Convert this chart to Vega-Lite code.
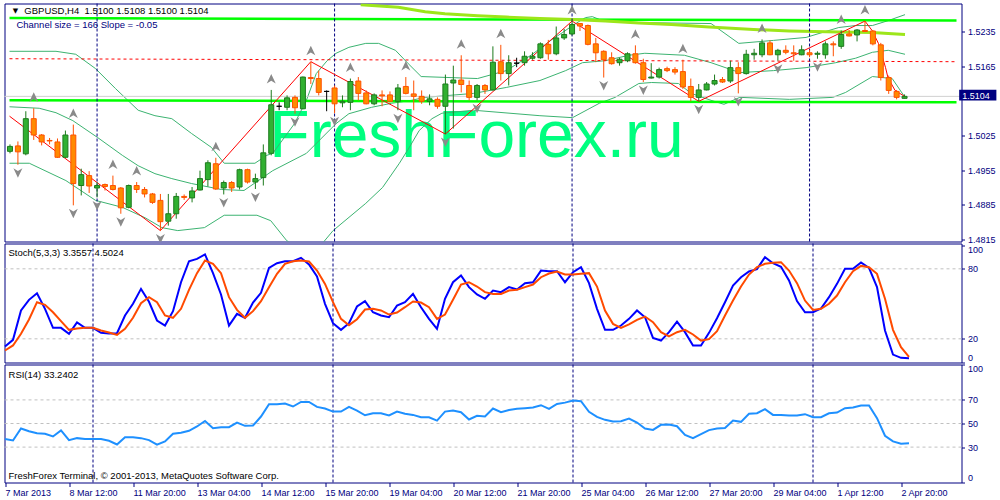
{
"$schema":"https://vega.github.io/schema/vega-lite/v6.json",
"background":"#ffffff",
"padding":{"left":0.5,"top":2.5,"right":0,"bottom":0},
"bounds":"flush",
"spacing":2,
"config":{"view":{"stroke":"#000080","strokeWidth":1}},
"datasets":{
"candles":[
{"i":0,"o":1.4993,"h":1.5007,"l":1.4989,"c":1.5003},{"i":1,"o":1.5004,"h":1.5013,"l":1.4966,"c":1.4992},{"i":2,"o":1.4988,"h":1.5074,"l":1.4985,"c":1.5059},{"i":3,"o":1.5059,"h":1.5080,"l":1.5016,"c":1.5026},{"i":4,"o":1.5026,"h":1.5028,"l":1.5005,"c":1.5012},{"i":5,"o":1.5015,"h":1.5020,"l":1.5007,"c":1.5014},{"i":6,"o":1.5012,"h":1.5019,"l":1.4980,"c":1.4981},{"i":7,"o":1.4981,"h":1.5035,"l":1.4980,"c":1.5026},{"i":8,"o":1.5026,"h":1.5047,"l":1.4884,"c":1.4928},{"i":9,"o":1.4924,"h":1.4958,"l":1.4904,"c":1.4946},
{"i":10,"o":1.4944,"h":1.4953,"l":1.4909,"c":1.4923},{"i":11,"o":1.4919,"h":1.4931,"l":1.4900,"c":1.4924},{"i":12,"o":1.4926,"h":1.4928,"l":1.4914,"c":1.4922},{"i":13,"o":1.4924,"h":1.4944,"l":1.4914,"c":1.4916},{"i":14,"o":1.4919,"h":1.4921,"l":1.4867,"c":1.4879},{"i":15,"o":1.4880,"h":1.4926,"l":1.4878,"c":1.4924},{"i":16,"o":1.4924,"h":1.4931,"l":1.4909,"c":1.4916},{"i":17,"o":1.4916,"h":1.4921,"l":1.4900,"c":1.4907},{"i":18,"o":1.4907,"h":1.4909,"l":1.4887,"c":1.4890},{"i":19,"o":1.4894,"h":1.4907,"l":1.4833,"c":1.4851},
{"i":20,"o":1.4852,"h":1.4907,"l":1.4843,"c":1.4867},{"i":21,"o":1.4867,"h":1.4909,"l":1.4857,"c":1.4902},{"i":22,"o":1.4902,"h":1.4906,"l":1.4895,"c":1.4900},{"i":23,"o":1.4899,"h":1.4921,"l":1.4890,"c":1.4913},{"i":24,"o":1.4915,"h":1.4954,"l":1.4914,"c":1.4938},{"i":25,"o":1.4936,"h":1.4975,"l":1.4922,"c":1.4970},{"i":26,"o":1.4968,"h":1.4980,"l":1.4915,"c":1.4917},{"i":27,"o":1.4919,"h":1.4934,"l":1.4906,"c":1.4930},{"i":28,"o":1.4930,"h":1.4933,"l":1.4911,"c":1.4919},{"i":29,"o":1.4921,"h":1.4958,"l":1.4916,"c":1.4956},
{"i":30,"o":1.4956,"h":1.4958,"l":1.4928,"c":1.4931},{"i":31,"o":1.4931,"h":1.4948,"l":1.4917,"c":1.4938},{"i":32,"o":1.4940,"h":1.5007,"l":1.4924,"c":1.4990},{"i":33,"o":1.4989,"h":1.5117,"l":1.4985,"c":1.5087},{"i":34,"o":1.5084,"h":1.5092,"l":1.5076,"c":1.5084},{"i":35,"o":1.5082,"h":1.5106,"l":1.5076,"c":1.5101},{"i":36,"o":1.5102,"h":1.5106,"l":1.5069,"c":1.5081},{"i":37,"o":1.5079,"h":1.5144,"l":1.5078,"c":1.5143},{"i":38,"o":1.5142,"h":1.5174,"l":1.5129,"c":1.5140},{"i":39,"o":1.5140,"h":1.5156,"l":1.5106,"c":1.5112},
{"i":40,"o":1.5114,"h":1.5116,"l":1.5074,"c":1.5114},{"i":41,"o":1.5121,"h":1.5126,"l":1.5070,"c":1.5089},{"i":42,"o":1.5091,"h":1.5106,"l":1.5082,"c":1.5094},{"i":43,"o":1.5092,"h":1.5140,"l":1.5076,"c":1.5134},{"i":44,"o":1.5135,"h":1.5143,"l":1.5096,"c":1.5110},{"i":45,"o":1.5111,"h":1.5116,"l":1.5088,"c":1.5089},{"i":46,"o":1.5089,"h":1.5110,"l":1.5086,"c":1.5107},{"i":47,"o":1.5107,"h":1.5116,"l":1.5084,"c":1.5105},{"i":48,"o":1.5107,"h":1.5114,"l":1.5092,"c":1.5094},{"i":49,"o":1.5094,"h":1.5129,"l":1.5076,"c":1.5121},
{"i":50,"o":1.5124,"h":1.5143,"l":1.5108,"c":1.5110},{"i":51,"o":1.5109,"h":1.5136,"l":1.5076,"c":1.5104},{"i":52,"o":1.5104,"h":1.5116,"l":1.5089,"c":1.5094},{"i":53,"o":1.5094,"h":1.5108,"l":1.5086,"c":1.5099},{"i":54,"o":1.5098,"h":1.5102,"l":1.5079,"c":1.5084},{"i":55,"o":1.5084,"h":1.5148,"l":1.5028,"c":1.5129},{"i":56,"o":1.5131,"h":1.5166,"l":1.5039,"c":1.5137},{"i":57,"o":1.5137,"h":1.5187,"l":1.5112,"c":1.5128},{"i":58,"o":1.5126,"h":1.5136,"l":1.5096,"c":1.5102},{"i":59,"o":1.5102,"h":1.5129,"l":1.5096,"c":1.5126},
{"i":60,"o":1.5126,"h":1.5129,"l":1.5109,"c":1.5117},{"i":61,"o":1.5117,"h":1.5205,"l":1.5116,"c":1.5173},{"i":62,"o":1.5174,"h":1.5208,"l":1.5136,"c":1.5150},{"i":63,"o":1.5150,"h":1.5187,"l":1.5126,"c":1.5172},{"i":64,"o":1.5171,"h":1.5182,"l":1.5163,"c":1.5171},{"i":65,"o":1.5172,"h":1.5195,"l":1.5166,"c":1.5185},{"i":66,"o":1.5181,"h":1.5193,"l":1.5178,"c":1.5185},{"i":67,"o":1.5182,"h":1.5213,"l":1.5180,"c":1.5210},{"i":68,"o":1.5209,"h":1.5218,"l":1.5178,"c":1.5190},{"i":69,"o":1.5190,"h":1.5245,"l":1.5187,"c":1.5222},
{"i":70,"o":1.5222,"h":1.5240,"l":1.5218,"c":1.5229},{"i":71,"o":1.5230,"h":1.5256,"l":1.5227,"c":1.5249},{"i":72,"o":1.5251,"h":1.5252,"l":1.5236,"c":1.5246},{"i":73,"o":1.5247,"h":1.5249,"l":1.5207,"c":1.5209},{"i":74,"o":1.5210,"h":1.5222,"l":1.5173,"c":1.5192},{"i":75,"o":1.5195,"h":1.5197,"l":1.5142,"c":1.5178},{"i":76,"o":1.5182,"h":1.5193,"l":1.5168,"c":1.5170},{"i":77,"o":1.5172,"h":1.5182,"l":1.5166,"c":1.5179},{"i":78,"o":1.5176,"h":1.5193,"l":1.5173,"c":1.5190},{"i":79,"o":1.5190,"h":1.5207,"l":1.5170,"c":1.5172},
{"i":80,"o":1.5172,"h":1.5180,"l":1.5133,"c":1.5138},{"i":81,"o":1.5141,"h":1.5171,"l":1.5140,"c":1.5143},{"i":82,"o":1.5143,"h":1.5162,"l":1.5140,"c":1.5158},{"i":83,"o":1.5160,"h":1.5164,"l":1.5153,"c":1.5156},{"i":84,"o":1.5158,"h":1.5163,"l":1.5148,"c":1.5153},{"i":85,"o":1.5154,"h":1.5178,"l":1.5119,"c":1.5123},{"i":86,"o":1.5124,"h":1.5140,"l":1.5094,"c":1.5102},{"i":87,"o":1.5102,"h":1.5129,"l":1.5094,"c":1.5117},{"i":88,"o":1.5117,"h":1.5133,"l":1.5116,"c":1.5129},{"i":89,"o":1.5129,"h":1.5148,"l":1.5126,"c":1.5136},
{"i":90,"o":1.5138,"h":1.5143,"l":1.5131,"c":1.5133},{"i":91,"o":1.5135,"h":1.5176,"l":1.5131,"c":1.5162},{"i":92,"o":1.5162,"h":1.5173,"l":1.5110,"c":1.5150},{"i":93,"o":1.5150,"h":1.5198,"l":1.5148,"c":1.5189},{"i":94,"o":1.5188,"h":1.5200,"l":1.5178,"c":1.5191},{"i":95,"o":1.5188,"h":1.5219,"l":1.5183,"c":1.5212},{"i":96,"o":1.5212,"h":1.5217,"l":1.5187,"c":1.5188},{"i":97,"o":1.5188,"h":1.5200,"l":1.5176,"c":1.5197},{"i":98,"o":1.5197,"h":1.5207,"l":1.5189,"c":1.5193},{"i":99,"o":1.5192,"h":1.5207,"l":1.5176,"c":1.5190},
{"i":100,"o":1.5188,"h":1.5207,"l":1.5187,"c":1.5198},{"i":101,"o":1.5192,"h":1.5198,"l":1.5183,"c":1.5188},{"i":102,"o":1.5189,"h":1.5195,"l":1.5180,"c":1.5191},{"i":103,"o":1.5188,"h":1.5215,"l":1.5180,"c":1.5210},{"i":104,"o":1.5210,"h":1.5215,"l":1.5185,"c":1.5208},{"i":105,"o":1.5205,"h":1.5237,"l":1.5200,"c":1.5229},{"i":106,"o":1.5230,"h":1.5238,"l":1.5225,"c":1.5226},{"i":107,"o":1.5228,"h":1.5240,"l":1.5215,"c":1.5238},{"i":108,"o":1.5237,"h":1.5256,"l":1.5234,"c":1.5235},{"i":109,"o":1.5236,"h":1.5238,"l":1.5207,"c":1.5210},
{"i":110,"o":1.5208,"h":1.5212,"l":1.5136,"c":1.5142},{"i":111,"o":1.5142,"h":1.5146,"l":1.5109,"c":1.5116},{"i":112,"o":1.5114,"h":1.5117,"l":1.5098,"c":1.5102},{"i":113,"o":1.5100,"h":1.5108,"l":1.5100,"c":1.5104}
],
"osc":[
{"i":0,"k":13.4,"d":10.0,"r":36.8},{"i":1,"k":19.1,"d":14.3,"r":35.6},{"i":2,"k":44.3,"d":24.3,"r":45.8},{"i":3,"k":53.4,"d":36.6,"r":43.5},{"i":4,"k":59.1,"d":51.4,"r":41.8},{"i":5,"k":45.7,"d":49.1,"r":41.3},{"i":6,"k":29.4,"d":42.8,"r":39.0},{"i":7,"k":29.4,"d":35.1,"r":44.1},{"i":8,"k":24.3,"d":27.7,"r":35.9},{"i":9,"k":34.0,"d":28.8,"r":37.6},
{"i":10,"k":29.4,"d":29.4,"r":36.8},{"i":11,"k":29.4,"d":29.4,"r":36.8},{"i":12,"k":25.1,"d":27.1,"r":36.8},{"i":13,"k":24.5,"d":25.4,"r":35.4},{"i":14,"k":24.8,"d":23.4,"r":32.2},{"i":15,"k":40.0,"d":28.5,"r":38.4},{"i":16,"k":50.0,"d":38.0,"r":38.4},{"i":17,"k":62.8,"d":50.5,"r":37.6},{"i":18,"k":51.7,"d":55.7,"r":35.9},{"i":19,"k":35.7,"d":51.4,"r":32.0},
{"i":20,"k":31.4,"d":40.0,"r":34.8},{"i":21,"k":43.7,"d":38.0,"r":41.3},{"i":22,"k":68.5,"d":45.7,"r":42.1},{"i":23,"k":86.5,"d":62.0,"r":43.8},{"i":24,"k":88.5,"d":76.3,"r":47.5},{"i":25,"k":92.3,"d":87.1,"r":52.2},{"i":26,"k":76.3,"d":84.3,"r":46.0},{"i":27,"k":58.0,"d":76.3,"r":46.9},{"i":28,"k":31.4,"d":55.7,"r":46.9},{"i":29,"k":41.4,"d":44.8,"r":50.8},
{"i":30,"k":38.0,"d":38.0,"r":48.0},{"i":31,"k":51.1,"d":43.7,"r":48.3},{"i":32,"k":59.4,"d":52.3,"r":55.9},{"i":33,"k":80.8,"d":64.3,"r":66.3},{"i":34,"k":84.8,"d":75.7,"r":66.3},{"i":35,"k":86.5,"d":84.3,"r":66.9},{"i":36,"k":86.5,"d":86.5,"r":64.4},{"i":37,"k":89.4,"d":87.1,"r":68.3},{"i":38,"k":83.7,"d":86.3,"r":68.3},{"i":39,"k":73.4,"d":78.5,"r":64.1},
{"i":40,"k":50.0,"d":67.1,"r":62.7},{"i":41,"k":33.4,"d":51.4,"r":60.1},{"i":42,"k":27.7,"d":37.1,"r":60.1},{"i":43,"k":33.4,"d":31.7,"r":64.1},{"i":44,"k":47.7,"d":36.8,"r":61.0},{"i":45,"k":52.3,"d":45.1,"r":57.0},{"i":46,"k":42.8,"d":45.7,"r":58.7},{"i":47,"k":40.0,"d":44.3,"r":58.7},{"i":48,"k":38.5,"d":40.8,"r":56.8},{"i":49,"k":48.5,"d":42.5,"r":60.1},
{"i":50,"k":51.4,"d":47.1,"r":58.2},{"i":51,"k":58.5,"d":52.0,"r":57.3},{"i":52,"k":47.1,"d":51.1,"r":55.3},{"i":53,"k":37.1,"d":47.1,"r":55.3},{"i":54,"k":28.6,"d":37.1,"r":52.5},{"i":55,"k":54.3,"d":40.8,"r":60.1},{"i":56,"k":68.5,"d":53.4,"r":61.0},{"i":57,"k":74.3,"d":66.5,"r":59.6},{"i":58,"k":64.3,"d":68.5,"r":53.4},{"i":59,"k":58.0,"d":64.8,"r":56.5},
{"i":60,"k":54.3,"d":60.0,"r":55.9},{"i":61,"k":61.4,"d":58.5,"r":62.7},{"i":62,"k":60.0,"d":58.5,"r":59.6},{"i":63,"k":64.3,"d":61.4,"r":61.5},{"i":64,"k":62.3,"d":62.0,"r":62.4},{"i":65,"k":67.7,"d":64.3,"r":63.0},{"i":66,"k":68.5,"d":66.5,"r":63.5},{"i":67,"k":78.5,"d":72.8,"r":65.5},{"i":68,"k":78.0,"d":76.0,"r":62.4},{"i":69,"k":78.0,"d":77.7,"r":66.6},
{"i":70,"k":68.5,"d":75.1,"r":67.7},{"i":71,"k":77.1,"d":75.1,"r":69.4},{"i":72,"k":81.4,"d":75.7,"r":68.9},{"i":73,"k":67.7,"d":76.3,"r":59.9},{"i":74,"k":45.7,"d":64.8,"r":55.6},{"i":75,"k":27.7,"d":44.3,"r":53.1},{"i":76,"k":27.7,"d":32.8,"r":51.7},{"i":77,"k":31.4,"d":29.4,"r":52.0},{"i":78,"k":37.1,"d":32.3,"r":54.2},{"i":79,"k":44.3,"d":36.3,"r":50.8},
{"i":80,"k":38.5,"d":39.1,"r":45.8},{"i":81,"k":20.8,"d":34.3,"r":44.6},{"i":82,"k":18.5,"d":25.7,"r":48.9},{"i":83,"k":25.7,"d":22.0,"r":49.1},{"i":84,"k":34.8,"d":25.7,"r":47.7},{"i":85,"k":25.7,"d":27.7,"r":40.4},{"i":86,"k":14.3,"d":23.7,"r":37.6},{"i":87,"k":14.3,"d":18.5,"r":41.0},{"i":88,"k":25.1,"d":19.7,"r":44.4},{"i":89,"k":37.7,"d":26.5,"r":45.8},
{"i":90,"k":51.4,"d":40.0,"r":46.1},{"i":91,"k":65.7,"d":52.8,"r":52.5},{"i":92,"k":72.8,"d":64.8,"r":51.4},{"i":93,"k":77.7,"d":75.1,"r":58.2},{"i":94,"k":79.7,"d":81.4,"r":58.7},{"i":95,"k":90.0,"d":84.3,"r":62.1},{"i":96,"k":84.8,"d":85.1,"r":57.3},{"i":97,"k":81.7,"d":85.7,"r":57.3},{"i":98,"k":70.0,"d":78.5,"r":56.8},{"i":99,"k":52.3,"d":67.7,"r":56.8},
{"i":100,"k":42.8,"d":52.8,"r":57.9},{"i":101,"k":42.8,"d":44.8,"r":55.3},{"i":102,"k":46.0,"d":45.7,"r":55.3},{"i":103,"k":55.7,"d":50.0,"r":58.7},{"i":104,"k":67.1,"d":57.1,"r":59.3},{"i":105,"k":80.0,"d":68.5,"r":63.0},{"i":106,"k":80.0,"d":78.0,"r":63.5},{"i":107,"k":85.4,"d":82.5,"r":65.2},{"i":108,"k":80.8,"d":81.4,"r":65.2},{"i":109,"k":64.3,"d":75.7,"r":54.5},
{"i":110,"k":27.1,"d":54.3,"r":39.6},{"i":111,"k":6.5,"d":27.7,"r":34.8},{"i":112,"k":3.7,"d":12.8,"r":32.8},{"i":113,"k":3.36,"d":4.5,"r":33.24}
],
"bands":[
{"b":"u","i":-0.0625,"p":1.5195},{"b":"u","i":5.81,"p":1.5195},{"b":"u","i":8.31,"p":1.5189},{"b":"u","i":10.81,"p":1.5160},{"b":"u","i":13.31,"p":1.5120},{"b":"u","i":16.19,"p":1.5076},{"b":"u","i":18.31,"p":1.5065},{"b":"u","i":20.44,"p":1.5059},{"b":"u","i":22.94,"p":1.5029},{"b":"u","i":25.44,"p":1.5001},{"b":"u","i":27.06,"p":1.4969},{"b":"u","i":30.94,"p":1.4969},{"b":"u","i":32.44,"p":1.4985},{"b":"u","i":33.19,"p":1.4989},{"b":"u","i":35.94,"p":1.5049},{"b":"u","i":37.44,"p":1.5096},{"b":"u","i":38.69,"p":1.5150},{"b":"u","i":40.06,"p":1.5176},{"b":"u","i":41.19,"p":1.5191},{"b":"u","i":42.81,"p":1.5203},{"b":"u","i":44.94,"p":1.5211},{"b":"u","i":46.56,"p":1.5211},{"b":"u","i":48.69,"p":1.5197},{"b":"u","i":50.31,"p":1.5170},{"b":"u","i":51.94,"p":1.5144},{"b":"u","i":59.06,"p":1.5140},{"b":"u","i":62.69,"p":1.5156},{"b":"u","i":65.81,"p":1.5187},{"b":"u","i":68.31,"p":1.5217},{"b":"u","i":69.81,"p":1.5233},{"b":"u","i":71.06,"p":1.5247},{"b":"u","i":72.69,"p":1.5263},{"b":"u","i":73.56,"p":1.5265},{"b":"u","i":74.81,"p":1.5257},{"b":"u","i":79.56,"p":1.5253},{"b":"u","i":88.56,"p":1.5251},{"b":"u","i":92.06,"p":1.5211},{"b":"u","i":96.44,"p":1.5217},{"b":"u","i":100.56,"p":1.5223},{"b":"u","i":104.69,"p":1.5243},{"b":"u","i":106.81,"p":1.5247},{"b":"u","i":108.94,"p":1.5247},{"b":"u","i":110.94,"p":1.5257},{"b":"u","i":113.06,"p":1.5269},
{"b":"m","i":-0.0625,"p":1.5083},{"b":"m","i":3.69,"p":1.5080},{"b":"m","i":5.81,"p":1.5071},{"b":"m","i":7.94,"p":1.5055},{"b":"m","i":11.06,"p":1.5021},{"b":"m","i":14.19,"p":1.4985},{"b":"m","i":16.19,"p":1.4964},{"b":"m","i":18.31,"p":1.4948},{"b":"m","i":20.44,"p":1.4938},{"b":"m","i":22.94,"p":1.4928},{"b":"m","i":26.69,"p":1.4916},{"b":"m","i":29.56,"p":1.4914},{"b":"m","i":33.19,"p":1.4954},{"b":"m","i":37.44,"p":1.4989},{"b":"m","i":41.19,"p":1.5049},{"b":"m","i":42.81,"p":1.5069},{"b":"m","i":45.69,"p":1.5082},{"b":"m","i":48.19,"p":1.5090},{"b":"m","i":50.69,"p":1.5096},{"b":"m","i":52.44,"p":1.5102},{"b":"m","i":58.56,"p":1.5110},{"b":"m","i":62.69,"p":1.5122},{"b":"m","i":66.94,"p":1.5136},{"b":"m","i":70.19,"p":1.5156},{"b":"m","i":72.31,"p":1.5172},{"b":"m","i":75.19,"p":1.5176},{"b":"m","i":78.19,"p":1.5187},{"b":"m","i":80.19,"p":1.5191},{"b":"m","i":85.19,"p":1.5187},{"b":"m","i":88.56,"p":1.5172},{"b":"m","i":92.19,"p":1.5152},{"b":"m","i":96.44,"p":1.5156},{"b":"m","i":100.56,"p":1.5162},{"b":"m","i":104.31,"p":1.5172},{"b":"m","i":106.81,"p":1.5181},{"b":"m","i":108.94,"p":1.5193},{"b":"m","i":110.94,"p":1.5197},{"b":"m","i":113.06,"p":1.5189},
{"b":"l","i":-0.0625,"p":1.4969},{"b":"l","i":2.44,"p":1.4969},{"b":"l","i":7.06,"p":1.4934},{"b":"l","i":10.81,"p":1.4894},{"b":"l","i":14.19,"p":1.4880},{"b":"l","i":17.06,"p":1.4859},{"b":"l","i":19.19,"p":1.4839},{"b":"l","i":21.19,"p":1.4833},{"b":"l","i":24.56,"p":1.4839},{"b":"l","i":27.06,"p":1.4864},{"b":"l","i":31.19,"p":1.4864},{"b":"l","i":32.94,"p":1.4853},{"b":"l","i":34.94,"p":1.4813},{"b":"l","i":37.06,"p":1.4789},{"b":"l","i":39.56,"p":1.4809},{"b":"l","i":40.81,"p":1.4833},{"b":"l","i":44.94,"p":1.4888},{"b":"l","i":47.06,"p":1.4920},{"b":"l","i":49.19,"p":1.4969},{"b":"l","i":50.44,"p":1.5001},{"b":"l","i":51.69,"p":1.5035},{"b":"l","i":53.31,"p":1.5059},{"b":"l","i":54.56,"p":1.5070},{"b":"l","i":58.56,"p":1.5076},{"b":"l","i":66.94,"p":1.5065},{"b":"l","i":71.06,"p":1.5061},{"b":"l","i":74.44,"p":1.5090},{"b":"l","i":76.44,"p":1.5102},{"b":"l","i":79.44,"p":1.5130},{"b":"l","i":81.06,"p":1.5132},{"b":"l","i":84.44,"p":1.5130},{"b":"l","i":86.06,"p":1.5110},{"b":"l","i":88.56,"p":1.5096},{"b":"l","i":90.19,"p":1.5088},{"b":"l","i":92.19,"p":1.5102},{"b":"l","i":98.44,"p":1.5098},{"b":"l","i":103.94,"p":1.5102},{"b":"l","i":105.56,"p":1.5112},{"b":"l","i":108.94,"p":1.5144},{"b":"l","i":111.44,"p":1.5140},{"b":"l","i":113.06,"p":1.5102}
],
"zz":[{"i":-0.0625,"p":1.5064},{"i":19,"p":1.4833},{"i":38,"p":1.5174},{"i":55,"p":1.5028},{"i":71,"p":1.5256},{"i":87,"p":1.5094},{"i":108,"p":1.5256},{"i":108.9,"p":1.5237},{"i":109.7,"p":1.5211},{"i":110.6,"p":1.5162},{"i":110.9,"p":1.5142},{"i":111.8,"p":1.5116},{"i":113,"p":1.5104}],
"yl":[{"i":44.3,"p":1.5289},{"i":49.06,"p":1.5284},{"i":52.44,"p":1.5275},{"i":54.94,"p":1.5271},{"i":59.06,"p":1.5267},{"i":62.69,"p":1.5264},{"i":66.94,"p":1.5261},{"i":71.06,"p":1.5259},{"i":75.19,"p":1.5256},{"i":79.44,"p":1.5252},{"i":83.56,"p":1.5249},{"i":88.31,"p":1.5244},{"i":93.94,"p":1.5239},{"i":98.44,"p":1.5236},{"i":104.69,"p":1.5234},{"i":108.94,"p":1.5233},{"i":110.94,"p":1.5231},{"i":113.06,"p":1.5229}],
"fup":[{"i":3,"p":1.5080},{"i":8,"p":1.5047},{"i":13,"p":1.4944},{"i":16,"p":1.4931},{"i":26,"p":1.4980},{"i":33,"p":1.5117},{"i":38,"p":1.5174},{"i":43,"p":1.5140},{"i":50,"p":1.5143},{"i":57,"p":1.5187},{"i":62,"p":1.5208},{"i":71,"p":1.5256},{"i":79,"p":1.5207},{"i":85,"p":1.5178},{"i":95,"p":1.5219},{"i":105,"p":1.5237},{"i":108,"p":1.5256}],
"fdn":[{"i":1,"p":1.4966},{"i":8,"p":1.4884},{"i":11,"p":1.4900},{"i":14,"p":1.4867},{"i":19,"p":1.4833},{"i":27,"p":1.4906},{"i":31,"p":1.4917},{"i":36,"p":1.5069},{"i":41,"p":1.5070},{"i":49,"p":1.5076},{"i":55,"p":1.5028},{"i":59,"p":1.5096},{"i":75,"p":1.5142},{"i":80,"p":1.5133},{"i":87,"p":1.5094},{"i":92,"p":1.5110},{"i":97,"p":1.5176},{"i":102,"p":1.5180}],
"seps":[{"s":11},{"s":41},{"s":71},{"s":101}],
"chan":[{"ln":"top","i":-0.0625,"p":1.5262},{"ln":"top","i":119.5625,"p":1.5257},{"ln":"bot","i":-0.0625,"p":1.5096},{"ln":"bot","i":119.5625,"p":1.5092}],
"midln":[{"i":-0.0625,"p":1.5180},{"i":119.5625,"p":1.5174}]
},
"vconcat":[
{
"width":957,"height":238,
"resolve":{"axis":{"x":"independent","y":"independent"}},
"layer":[
{"data":{"values":[{}]},"mark":{"type":"text","text":"FreshForex.ru","font":"Liberation Sans","fontSize":66,"color":"#00ff7f","align":"center","baseline":"alphabetic"},
 "encoding":{"x":{"datum":58.94,"type":"quantitative","scale":{"domain":[-0.0625,119.5625],"nice":false,"zero":false},"axis":null},"y":{"datum":1.4981,"type":"quantitative","scale":{"domain":[1.4811,1.52915],"nice":false,"zero":false},"axis":null}}},
{"data":{"name":"bands"},"mark":{"type":"line","color":"#3cb371","strokeWidth":1,"clip":true},
 "encoding":{"x":{"field":"i","type":"quantitative","scale":{"domain":[-0.0625,119.5625],"nice":false,"zero":false},"axis":null},"y":{"field":"p","type":"quantitative","scale":{"domain":[1.4811,1.52915],"nice":false,"zero":false},"axis":null},"detail":{"field":"b"}}},
{"data":{"name":"chan"},"mark":{"type":"line","color":"#00ff00","strokeWidth":2.5,"clip":true},
 "encoding":{"x":{"field":"i","type":"quantitative","scale":{"domain":[-0.0625,119.5625],"nice":false,"zero":false},"axis":null},"y":{"field":"p","type":"quantitative","scale":{"domain":[1.4811,1.52915],"nice":false,"zero":false},"axis":null},"detail":{"field":"ln"}}},
{"data":{"name":"midln"},"mark":{"type":"line","color":"#ff0000","strokeWidth":1,"strokeDash":[3,3],"clip":true},
 "encoding":{"x":{"field":"i","type":"quantitative","scale":{"domain":[-0.0625,119.5625],"nice":false,"zero":false},"axis":null},"y":{"field":"p","type":"quantitative","scale":{"domain":[1.4811,1.52915],"nice":false,"zero":false},"axis":null}}},
{"data":{"values":[{}]},"mark":{"type":"rule","color":"#d0d0d0","strokeWidth":1},
 "encoding":{"y":{"datum":1.5104,"type":"quantitative","scale":{"domain":[1.4811,1.52915],"nice":false,"zero":false},"axis":null}}},
{"data":{"name":"yl"},"mark":{"type":"line","color":"#9de61a","strokeWidth":3,"clip":true},
 "encoding":{"x":{"field":"i","type":"quantitative","scale":{"domain":[-0.0625,119.5625],"nice":false,"zero":false},"axis":null},"y":{"field":"p","type":"quantitative","scale":{"domain":[1.4811,1.52915],"nice":false,"zero":false},"axis":null}}},
{"data":{"name":"seps"},"mark":{"type":"rule","color":"#000080","strokeWidth":1,"strokeDash":[3,2]},
 "encoding":{"x":{"field":"s","type":"quantitative","scale":{"domain":[-0.0625,119.5625],"nice":false,"zero":false},"axis":null}}},
{"data":{"name":"zz"},"mark":{"type":"line","color":"#ff0000","strokeWidth":1,"clip":true},
 "encoding":{"x":{"field":"i","type":"quantitative","scale":{"domain":[-0.0625,119.5625],"nice":false,"zero":false},"axis":null},"y":{"field":"p","type":"quantitative","scale":{"domain":[1.4811,1.52915],"nice":false,"zero":false},"axis":null}}},
{"data":{"name":"candles"},"mark":{"type":"rule","strokeWidth":1,"clip":true},
 "encoding":{"x":{"field":"i","type":"quantitative","scale":{"domain":[-0.0625,119.5625],"nice":false,"zero":false},"axis":null},
  "y":{"field":"l","type":"quantitative","scale":{"domain":[1.4811,1.52915],"nice":false,"zero":false},
   "axis":{"orient":"right","values":[1.4815,1.4885,1.4955,1.5025,1.5165,1.5235],"format":".4f","title":null,"domain":false,"grid":false,"ticks":true,"tickSize":3,"tickColor":"#000080","labelColor":"#000080","labelFont":"Liberation Sans","labelFontSize":9,"labelPadding":3,"labelOverlap":false,"labelFlush":false}},
  "y2":{"field":"h"},
  "stroke":{"condition":[{"test":"datum.c == datum.o","value":"#000000"},{"test":"datum.c > datum.o","value":"#1d7a1d"}],"value":"#ff5000"}}},
{"data":{"name":"candles"},"mark":{"type":"bar","width":5,"strokeWidth":1,"clip":true},
 "encoding":{"x":{"field":"i","type":"quantitative","scale":{"domain":[-0.0625,119.5625],"nice":false,"zero":false},"axis":null},
  "y":{"field":"o","type":"quantitative","scale":{"domain":[1.4811,1.52915],"nice":false,"zero":false},"axis":null},
  "y2":{"field":"c"},
  "fill":{"condition":[{"test":"datum.c == datum.o","value":"#000000"},{"test":"datum.c > datum.o","value":"#31b031"}],"value":"#ff8a00"},
  "stroke":{"condition":[{"test":"datum.c == datum.o","value":"#000000"},{"test":"datum.c > datum.o","value":"#1d7a1d"}],"value":"#ff5000"}}},
{"data":{"name":"fup"},"mark":{"type":"point","shape":"M0,-1 L0.9,0.9 L0,0.35 L-0.9,0.9 Z","filled":true,"opacity":1,"color":"#8a8a8a","size":100,"yOffset":-11,"clip":true},
 "encoding":{"x":{"field":"i","type":"quantitative","scale":{"domain":[-0.0625,119.5625],"nice":false,"zero":false},"axis":null},"y":{"field":"p","type":"quantitative","scale":{"domain":[1.4811,1.52915],"nice":false,"zero":false},"axis":null}}},
{"data":{"name":"fdn"},"mark":{"type":"point","shape":"M0,1 L0.9,-0.9 L0,-0.35 L-0.9,-0.9 Z","filled":true,"opacity":1,"color":"#8a8a8a","size":100,"yOffset":8,"clip":true},
 "encoding":{"x":{"field":"i","type":"quantitative","scale":{"domain":[-0.0625,119.5625],"nice":false,"zero":false},"axis":null},"y":{"field":"p","type":"quantitative","scale":{"domain":[1.4811,1.52915],"nice":false,"zero":false},"axis":null}}},
{"data":{"values":[{}]},"mark":{"type":"text","text":"▼","font":"DejaVu Sans","fontSize":7,"color":"#000000","align":"center","baseline":"middle"},
 "encoding":{"x":{"datum":0.69,"type":"quantitative","scale":{"domain":[-0.0625,119.5625],"nice":false,"zero":false},"axis":null},"y":{"datum":1.52764,"type":"quantitative","scale":{"domain":[1.4811,1.52915],"nice":false,"zero":false},"axis":null}}},
{"data":{"values":[{}]},"mark":{"type":"text","text":"GBPUSD,H4\u00a0 1.5100 1.5108 1.5100 1.5104","font":"Liberation Sans","fontSize":9.5,"color":"#000000","align":"left","baseline":"middle"},
 "encoding":{"x":{"datum":1.81,"type":"quantitative","scale":{"domain":[-0.0625,119.5625],"nice":false,"zero":false},"axis":null},"y":{"datum":1.52764,"type":"quantitative","scale":{"domain":[1.4811,1.52915],"nice":false,"zero":false},"axis":null}}},
{"data":{"values":[{}]},"mark":{"type":"text","text":"Channel size = 166 Slope = -0.05","font":"Liberation Sans","fontSize":9.5,"color":"#000080","align":"left","baseline":"middle"},
 "encoding":{"x":{"datum":0.81,"type":"quantitative","scale":{"domain":[-0.0625,119.5625],"nice":false,"zero":false},"axis":null},"y":{"datum":1.52491,"type":"quantitative","scale":{"domain":[1.4811,1.52915],"nice":false,"zero":false},"axis":null}}},
{"data":{"values":[{}]},"mark":{"type":"rect","color":"#000080"},
 "encoding":{"x":{"datum":119.9,"type":"quantitative","scale":{"domain":[-0.0625,119.5625],"nice":false,"zero":false},"axis":null},"x2":{"datum":124.6},"y":{"datum":1.51173,"type":"quantitative","scale":{"domain":[1.4811,1.52915],"nice":false,"zero":false},"axis":null},"y2":{"datum":1.50957}}},
{"data":{"values":[{}]},"mark":{"type":"text","text":"1.5104","font":"Liberation Sans","fontSize":9,"color":"#ffffff","align":"left","baseline":"middle"},
 "encoding":{"x":{"datum":120.3,"type":"quantitative","scale":{"domain":[-0.0625,119.5625],"nice":false,"zero":false},"axis":null},"y":{"datum":1.5104,"type":"quantitative","scale":{"domain":[1.4811,1.52915],"nice":false,"zero":false},"axis":null}}}
]
},
{
"width":957,"height":119,
"resolve":{"axis":{"x":"independent","y":"independent"}},
"layer":[
{"data":{"values":[{"v":20},{"v":80}]},"mark":{"type":"rule","color":"#c0c0c0","strokeDash":[3,3]},
 "encoding":{"y":{"field":"v","type":"quantitative","scale":{"domain":[-0.3,101.7],"nice":false,"zero":false},"axis":null}}},
{"data":{"name":"seps"},"mark":{"type":"rule","color":"#000080","strokeWidth":1,"strokeDash":[3,2]},
 "encoding":{"x":{"field":"s","type":"quantitative","scale":{"domain":[-0.0625,119.5625],"nice":false,"zero":false},"axis":null}}},
{"data":{"name":"osc"},"mark":{"type":"line","color":"#0000ff","strokeWidth":2},
 "encoding":{"x":{"field":"i","type":"quantitative","scale":{"domain":[-0.0625,119.5625],"nice":false,"zero":false},"axis":null},
  "y":{"field":"k","type":"quantitative","scale":{"domain":[-0.3,101.7],"nice":false,"zero":false},
   "axis":{"orient":"right","values":[0,20,80,100],"title":null,"domain":false,"grid":false,"ticks":true,"tickSize":3,"tickColor":"#000080","labelColor":"#000080","labelFont":"Liberation Sans","labelFontSize":9,"labelPadding":3,"labelOverlap":false,"labelFlush":false,
    "labelBaseline":{"condition":[{"test":"datum.value >= 100","value":"top"},{"test":"datum.value <= 0","value":"bottom"}],"value":"middle"}}}}},
{"data":{"name":"osc"},"mark":{"type":"line","color":"#ff4a00","strokeWidth":2},
 "encoding":{"x":{"field":"i","type":"quantitative","scale":{"domain":[-0.0625,119.5625],"nice":false,"zero":false},"axis":null},
  "y":{"field":"d","type":"quantitative","scale":{"domain":[-0.3,101.7],"nice":false,"zero":false},"axis":null}}},
{"data":{"values":[{}]},"mark":{"type":"text","text":"Stoch(5,3,3) 3.3557 4.5024","font":"Liberation Sans","fontSize":9.5,"color":"#000000","align":"left","baseline":"middle"},
 "encoding":{"x":{"datum":0.44,"type":"quantitative","scale":{"domain":[-0.0625,119.5625],"nice":false,"zero":false},"axis":null},"y":{"datum":93.4,"type":"quantitative","scale":{"domain":[-0.3,101.7],"nice":false,"zero":false},"axis":null}}}
]
},
{
"width":957,"height":118,
"resolve":{"axis":{"x":"independent","y":"independent"}},
"layer":[
{"data":{"values":[{"v":30},{"v":50},{"v":70}]},"mark":{"type":"rule","color":"#c0c0c0","strokeDash":[3,3]},
 "encoding":{"y":{"field":"v","type":"quantitative","scale":{"domain":[0,100],"nice":false,"zero":false},"axis":null}}},
{"data":{"name":"seps"},"mark":{"type":"rule","color":"#000080","strokeWidth":1,"strokeDash":[3,2]},
 "encoding":{"x":{"field":"s","type":"quantitative","scale":{"domain":[-0.0625,119.5625],"nice":false,"zero":false},"axis":null}}},
{"data":{"name":"osc"},"mark":{"type":"line","color":"#1e90ff","strokeWidth":2},
 "encoding":{"x":{"field":"i","type":"quantitative","scale":{"domain":[-0.0625,119.5625],"nice":false,"zero":false},
   "axis":{"orient":"bottom","values":[0,8,16,24,32,40,48,56,64,72,80,88,96,104,112],"labelExpr":"['7 Mar 2013','8 Mar 12:00','11 Mar 20:00','13 Mar 04:00','14 Mar 12:00','15 Mar 20:00','19 Mar 04:00','20 Mar 12:00','21 Mar 20:00','25 Mar 04:00','26 Mar 12:00','27 Mar 20:00','29 Mar 04:00','1 Apr 12:00','2 Apr 20:00'][round(datum.value/8)]","labelAlign":"left","labelBaseline":"top","labelPadding":2,"title":null,"domain":false,"grid":false,"ticks":true,"tickSize":4,"tickColor":"#000080","labelColor":"#000080","labelFont":"Liberation Sans","labelFontSize":9,"labelOverlap":false,"labelFlush":false,"labelBound":false}},
  "y":{"field":"r","type":"quantitative","scale":{"domain":[0,100],"nice":false,"zero":false},
   "axis":{"orient":"right","values":[0,30,50,70,100],"title":null,"domain":false,"grid":false,"ticks":true,"tickSize":3,"tickColor":"#000080","labelColor":"#000080","labelFont":"Liberation Sans","labelFontSize":9,"labelPadding":3,"labelOverlap":false,"labelFlush":false,
    "labelBaseline":{"condition":[{"test":"datum.value >= 100","value":"top"},{"test":"datum.value <= 0","value":"bottom"}],"value":"middle"}}}}},
{"data":{"values":[{}]},"mark":{"type":"text","text":"RSI(14) 33.2402","font":"Liberation Sans","fontSize":9.5,"color":"#000000","align":"left","baseline":"middle"},
 "encoding":{"x":{"datum":0.44,"type":"quantitative","scale":{"domain":[-0.0625,119.5625],"nice":false,"zero":false},"axis":null},"y":{"datum":91.5,"type":"quantitative","scale":{"domain":[0,100],"nice":false,"zero":false},"axis":null}}},
{"data":{"values":[{}]},"mark":{"type":"text","text":"FreshForex Terminal, © 2001-2013, MetaQuotes Software Corp.","font":"Liberation Sans","fontSize":9.5,"color":"#000000","align":"left","baseline":"middle"},
 "encoding":{"x":{"datum":0.44,"type":"quantitative","scale":{"domain":[-0.0625,119.5625],"nice":false,"zero":false},"axis":null},"y":{"datum":5.9,"type":"quantitative","scale":{"domain":[0,100],"nice":false,"zero":false},"axis":null}}}
]
}
]
}
